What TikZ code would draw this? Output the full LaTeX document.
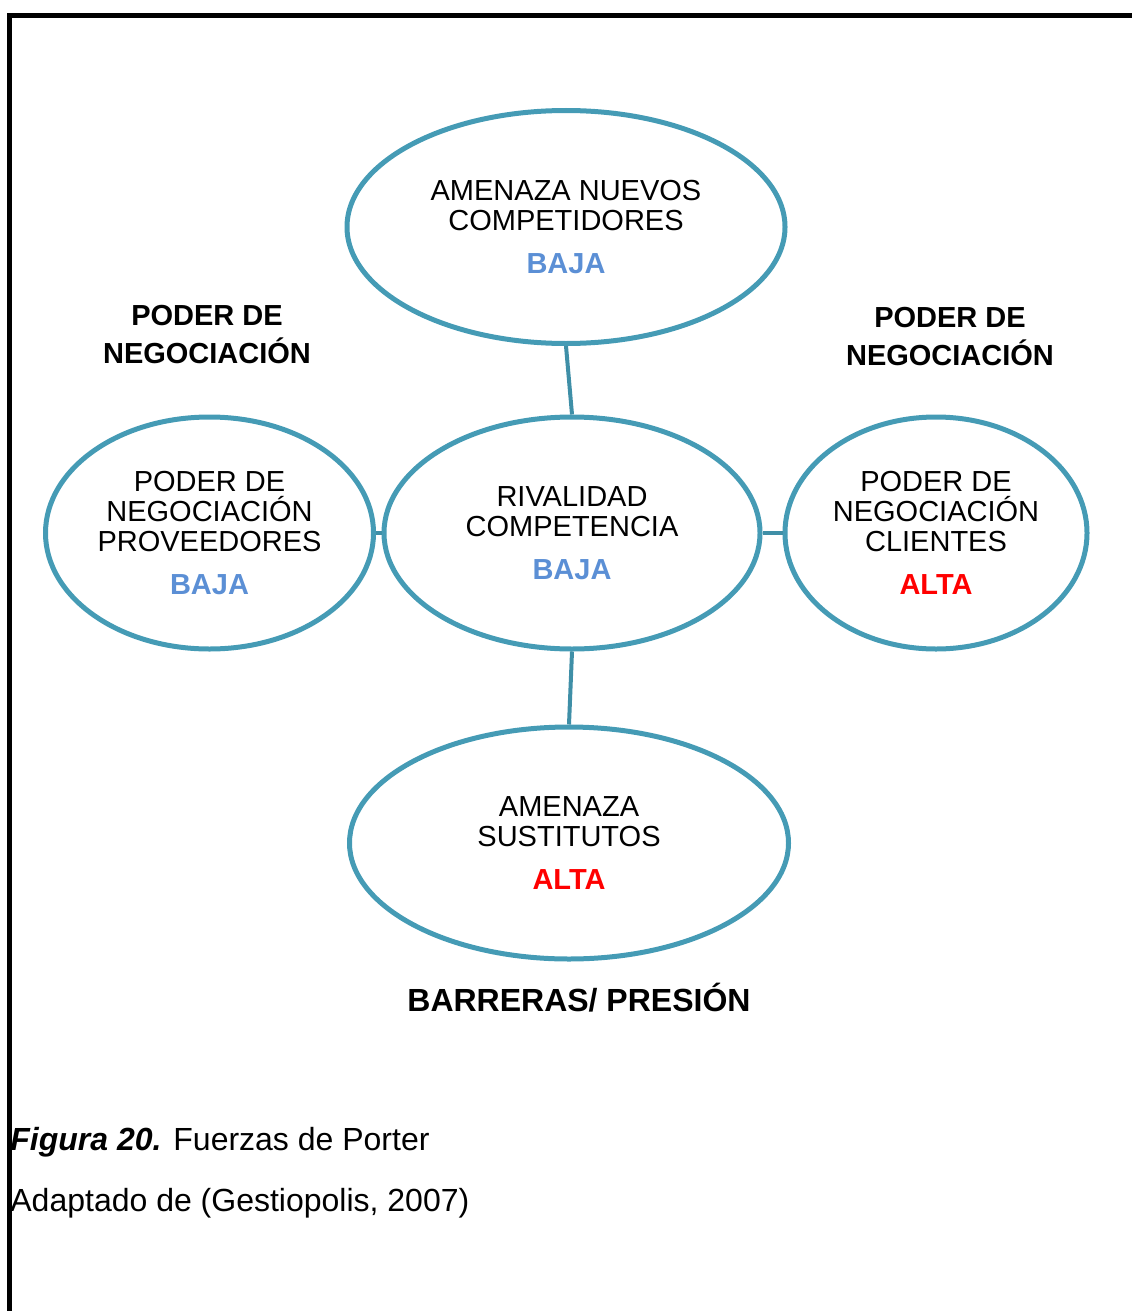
\documentclass[tikz,border=0pt]{standalone}
\usepackage{fontspec}
\setmainfont{Liberation Sans}
\usepackage{tikz}
\usetikzlibrary{shapes.geometric}

\definecolor{forceline}{RGB}{69,155,181}
\definecolor{levellow}{RGB}{91,143,213}
\definecolor{levelhigh}{RGB}{255,0,0}

\newcommand{\lowlevel}{\textcolor{levellow}{\textbf{BAJA}}}
\newcommand{\highlevel}{\textcolor{levelhigh}{\textbf{ALTA}}}

\begin{document}
\begin{tikzpicture}[x=0.5pt,y=-0.5pt,
	force/.style={ellipse,draw=forceline,line width=2.5pt,inner sep=0pt,align=center,
		font=\fontsize{14.5}{15}\selectfont},
	link/.style={draw=forceline!92!black,line width=2pt},
	sidelabel/.style={align=center,font=\bfseries\fontsize{14.5}{19}\selectfont}]

\useasboundingbox (0,0) rectangle (1132,1311);
\draw[line width=2.5pt] (9.5,1311) -- (9.5,16) -- (1132,16);

% the five forces
\node[force,minimum width=219pt,minimum height=116.5pt] (entrants) at (566,227)
	{AMENAZA NUEVOS\\COMPETIDORES\\[6.5pt]\lowlevel};
\node[force,minimum width=188pt,minimum height=116pt] (rivalry) at (572,533)
	{RIVALIDAD\\COMPETENCIA\\[6.5pt]\lowlevel};
\node[force,minimum width=164pt,minimum height=116pt] (suppliers) at (209.5,533)
	{PODER DE\\NEGOCIACIÓN\\PROVEEDORES\\[6.5pt]\lowlevel};
\node[force,minimum width=151pt,minimum height=116pt] (buyers) at (936,533)
	{PODER DE\\NEGOCIACIÓN\\CLIENTES\\[6.5pt]\highlevel};
\node[force,minimum width=219.5pt,minimum height=116pt] (substitutes) at (569,843)
	{AMENAZA\\SUSTITUTOS\\[6.5pt]\highlevel};

\draw[link] (entrants.south) -- (rivalry.north);
\draw[link] (rivalry.south) -- (substitutes.north);
\draw[link] (suppliers.east) -- (rivalry.west);
\draw[link] (rivalry.east) -- (buyers.west);

% labels round the diagram
\node[sidelabel] (leftlabel) at (207,335) {PODER DE\\NEGOCIACIÓN};
\node[sidelabel] (rightlabel) at (950,337) {PODER DE\\NEGOCIACIÓN};
\node[sidelabel,font=\bfseries\fontsize{16}{19}\selectfont] (barriers) at (579,998) {BARRERAS/ PRESIÓN};

% caption
\node[anchor=base west,inner sep=0pt,font=\fontsize{16}{19}\selectfont] (caption) at (10,1150)
	{\textbf{\textit{Figura 20.}} Fuerzas de Porter};
\node[anchor=base west,inner sep=0pt,font=\fontsize{16}{19}\selectfont] (source) at (10,1211)
	{Adaptado de (Gestiopolis, 2007)};

\end{tikzpicture}
\end{document}
